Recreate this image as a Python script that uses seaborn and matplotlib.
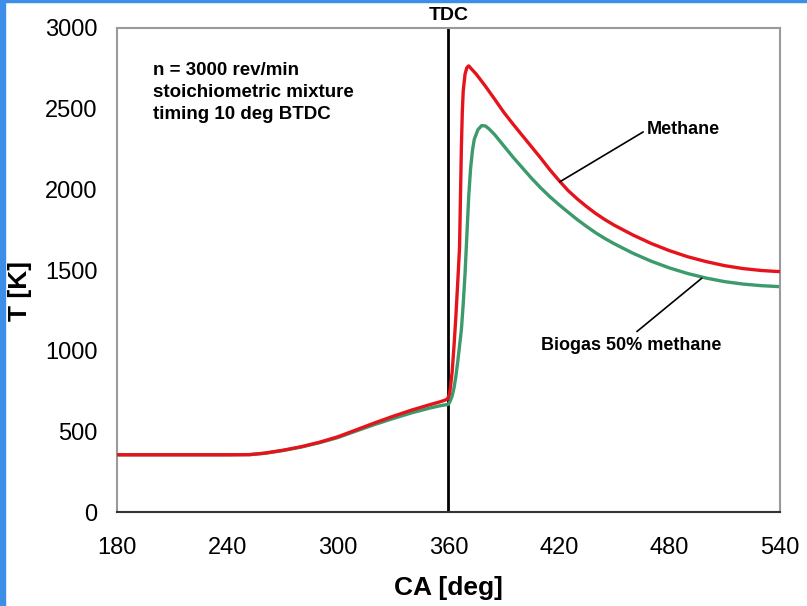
import seaborn as sns
import matplotlib.pyplot as plt
import matplotlib.patches as mpatches
import pandas as pd

# Crank angle [deg] and temperature [K]
ca_methane = [180, 200, 220, 240, 252, 260, 270, 280, 290, 300, 310, 320, 330,
              340, 350, 355, 358, 359.5, 360.5, 361, 362, 363, 364, 365,
              366, 366.5, 367, 367.5, 368, 369, 370, 371, 372, 375, 380, 385,
              390, 395, 400, 405, 410, 415, 420, 425, 430, 435, 440, 445, 450,
              460, 470, 480, 490, 500, 510, 520, 530, 540]
t_methane = [355, 355, 355, 355, 356, 365, 383, 405, 433, 467, 510, 553, 594,
             632, 666, 682, 693, 702, 730, 770, 870, 1030, 1210, 1420,
             1640, 1950, 2260, 2480, 2610, 2715, 2755, 2765, 2752, 2715, 2640, 2560,
             2478, 2405, 2335, 2265, 2195, 2122, 2055, 1992, 1940, 1893, 1850, 1812, 1778,
             1718, 1665, 1620, 1582, 1552, 1527, 1509, 1497, 1490]

ca_biogas = [180, 200, 220, 240, 252, 260, 270, 280, 290, 300, 310, 320, 330,
             340, 350, 355, 358, 360, 361, 362, 363, 364, 365, 366,
             367, 368, 369, 370, 371, 372, 373, 374, 376, 378, 380, 382, 385,
             390, 395, 400, 405, 410, 415, 420, 425, 430, 435, 440, 445, 450,
             460, 470, 480, 490, 500, 510, 520, 530, 540]
t_biogas = [355, 355, 355, 355, 356, 364, 381, 403, 430, 462, 503, 543, 580,
            615, 645, 658, 664, 668, 690, 720, 770, 840, 930, 1030,
            1130, 1290, 1480, 1720, 1960, 2130, 2240, 2310, 2370, 2395, 2393, 2375, 2340,
            2270, 2200, 2135, 2070, 2010, 1955, 1905, 1858, 1812, 1770, 1730, 1695, 1663,
            1605, 1555, 1513, 1478, 1450, 1428, 1413, 1403, 1397]

df_m = pd.DataFrame({'CA': ca_methane, 'T': t_methane})
df_b = pd.DataFrame({'CA': ca_biogas, 'T': t_biogas})

sns.set_style('white')
plt.rcParams['font.family'] = ['Liberation Sans', 'DejaVu Sans']
plt.rcParams['text.color'] = 'black'
plt.rcParams['axes.labelcolor'] = 'black'

fig = plt.figure(figsize=(8.07, 6.06), dpi=100)
ax = fig.add_axes([0.145, 0.155, 0.8215, 0.7988])

# slide background strips
fig.patches.append(mpatches.Rectangle((0, 0), 0.0065, 1, transform=fig.transFigure,
                                      color='#3d8ee6', zorder=0))
fig.patches.append(mpatches.Rectangle((0, 0.996), 1, 0.004, transform=fig.transFigure,
                                      color='#3d8ee6', zorder=0))

ax.axvline(360, color='black', lw=2, zorder=1)
sns.lineplot(data=df_b, x='CA', y='T', ax=ax, color='#3c9a6c', lw=2.4, sort=False, zorder=2)
sns.lineplot(data=df_m, x='CA', y='T', ax=ax, color='#e5141c', lw=2.4, sort=False, zorder=3)

ax.set_xlim(180, 540)
ax.set_ylim(0, 3000)
ax.set_xticks(range(180, 541, 60))
ax.set_yticks(range(0, 3001, 500))
ax.tick_params(axis='x', direction='in', length=6, width=1, colors='#555555',
               labelcolor='black', labelsize=17, pad=18)
ax.tick_params(axis='y', direction='out', length=6, width=1, colors='#777777',
               labelcolor='black', labelsize=17, pad=8)

for side in ['left', 'top', 'right']:
    ax.spines[side].set_color('#9a9a9a')
    ax.spines[side].set_linewidth(1.5)
ax.spines['bottom'].set_color('#333333')
ax.spines['bottom'].set_linewidth(1.5)

ax.set_xlabel('CA [deg]', fontsize=19, fontweight='bold', labelpad=12)
ax.set_ylabel('T [K]', fontsize=19, fontweight='bold')
ax.yaxis.set_label_coords(-0.128, 0.457)

ax.text(0.055, 0.93, 'n = 3000 rev/min\nstoichiometric mixture\ntiming 10 deg BTDC',
        transform=ax.transAxes, fontsize=13.5, fontweight='bold', va='top',
        linespacing=1.4)
ax.text(360, 1.008, 'TDC', transform=ax.get_xaxis_transform(), ha='center',
        va='bottom', fontsize=14, fontweight='bold', clip_on=False)

ax.annotate('Methane', xy=(420.5, 2047), xytext=(467.5, 2368), fontsize=13,
            fontweight='bold', va='center', ha='left',
            arrowprops=dict(arrowstyle='-', color='black', lw=1.2,
                            shrinkA=0, shrinkB=0, relpos=(0, 0.5)))
ax.annotate('Biogas 50% methane', xy=(497.5, 1449), xytext=(459, 1035), fontsize=13,
            fontweight='bold', va='center', ha='center',
            arrowprops=dict(arrowstyle='-', color='black', lw=1.2,
                            shrinkA=2, shrinkB=0, relpos=(0.5, 1)))

plt.savefig('out.png', dpi=100)
plt.close()
